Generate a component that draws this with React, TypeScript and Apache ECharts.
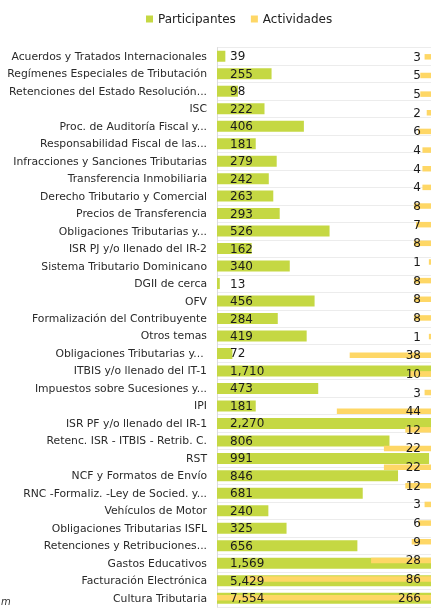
import React, { useEffect, useRef } from "react";
import * as echarts from "echarts";

const categorias = [
  "Acuerdos y Tratados Internacionales",
  "Regímenes Especiales de Tributación",
  "Retenciones del Estado Resolución...",
  "ISC",
  "Proc. de Auditoría Fiscal y...",
  "Responsabilidad Fiscal de las...",
  "Infracciones y Sanciones Tributarias",
  "Transferencia Inmobiliaria",
  "Derecho Tributario y Comercial",
  "Precios de Transferencia",
  "Obligaciones Tributarias y...",
  "ISR PJ y/o llenado del IR-2",
  "Sistema Tributario Dominicano",
  "DGII de cerca",
  "OFV",
  "Formalización del Contribuyente",
  "Otros temas",
  "Obligaciones Tributarias y... ",
  "ITBIS y/o llenado del IT-1",
  "Impuestos sobre Sucesiones y...",
  "IPI",
  "ISR PF y/o llenado del IR-1",
  "Retenc. ISR - ITBIS - Retrib. C.",
  "RST",
  "NCF y Formatos de Envío",
  "RNC -Formaliz. -Ley de Socied. y...",
  "Vehículos de Motor",
  "Obligaciones Tributarias ISFL",
  "Retenciones y Retribuciones...",
  "Gastos Educativos",
  "Facturación Electrónica",
  "Cultura Tributaria",
];

const participantes = [
  39, 255, 98, 222, 406, 181, 279, 242, 263, 293, 526, 162, 340, 13, 456, 284,
  419, 72, 1710, 473, 181, 2270, 806, 991, 846, 681, 240, 325, 656, 1569, 5429,
  7554,
];

const temasActividades = [
  "A1", "A2", "A3", "A4", "A5", "A6", "A7", "A8", "A9", "A10",
  "A11", "A12", "A13", "A14", "A15", "A16", "A17", "A18", "A19", "A20",
  "A21", "A22", "A23", "A24", "A25", "A26", "A27", "A28", "A29", "A30",
];

const actividades = [
  3, 5, 5, 2, 6, 4, 4, 4, 8, 7, 8, 1, 8, 8, 8, 1, 38, 10, 3, 44, 12, 22, 22, 12,
  3, 6, 9, 28, 86, 266,
];

const FONT = "DejaVu Sans";

export default function App() {
  const ref = useRef<HTMLDivElement>(null);

  useEffect(() => {
    if (!ref.current) return;
    const chart = echarts.init(ref.current, null, { renderer: "svg" });
    chart.setOption({
      animation: false,
      textStyle: { fontFamily: FONT },
      legend: {
        left: 141,
        top: 8,
        icon: "rect",
        itemWidth: 7,
        itemHeight: 7,
        itemGap: 15,
        textStyle: { fontFamily: FONT, fontSize: 12, color: "#222" },
        data: ["Participantes", "Actividades"],
      },
      graphic: [
        {
          type: "text",
          left: 1,
          top: 596,
          style: {
            text: "m",
            fontFamily: FONT,
            fontStyle: "italic",
            fontSize: 10,
            fill: "#333",
          },
        },
      ],
      grid: { left: 217, right: 3, top: 47.5, bottom: 1, containLabel: false },
      xAxis: [
        { type: "value", min: 0, max: 1000, show: false },
        { type: "value", min: 0, max: 100, inverse: true, show: false },
      ],
      yAxis: [
        {
          type: "category",
          data: categorias,
          inverse: true,
          axisTick: { show: false },
          axisLine: { show: true, lineStyle: { color: "#dcdcdc" } },
          splitLine: { show: true, lineStyle: { color: "#ececec" } },
          axisLabel: {
            margin: 10,
            fontFamily: FONT,
            fontSize: 10.8,
            color: "#2a2a2a",
          },
        },
        {
          type: "category",
          data: temasActividades,
          inverse: true,
          show: false,
        },
      ],
      series: [
        {
          name: "Participantes",
          type: "bar",
          xAxisIndex: 0,
          yAxisIndex: 0,
          data: participantes,
          barWidth: 11,
          itemStyle: { color: "#c5d843" },
          label: {
            show: true,
            position: "insideLeft",
            distance: 13,
            fontFamily: FONT,
            fontSize: 12,
            color: "#1a1a1a",
            formatter: (p: any) => Number(p.value).toLocaleString("en-US"),
          },
        },
        {
          name: "Actividades",
          type: "bar",
          xAxisIndex: 1,
          yAxisIndex: 1,
          data: actividades,
          barWidth: 5.5,
          itemStyle: { color: "#fed766" },
          label: {
            show: true,
            position: "insideRight",
            distance: 10,
            fontFamily: FONT,
            fontSize: 12,
            color: "#1a1a1a",
          },
        },
      ],
    });
    return () => chart.dispose();
  }, []);

  return (
    <div
      ref={ref}
      style={{ position: "fixed", left: 0, top: 0, width: 434, height: 608 }}
    />
  );
}
